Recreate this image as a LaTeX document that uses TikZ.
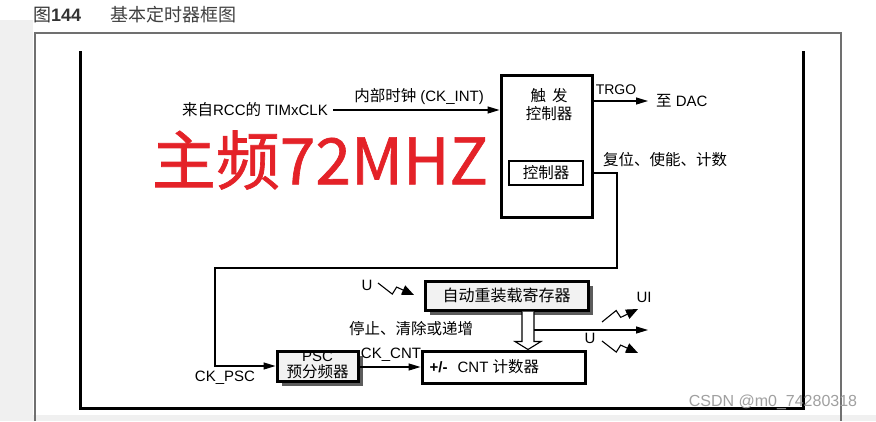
\documentclass[tikz,border=0pt]{standalone}
\usepackage{fontspec}
\setmainfont{Liberation Sans}
\newfontfamily\cjk{Noto Sans CJK SC}
\newfontfamily\handfont{Noto Sans CJK SC}[FakeBold=1]
\usetikzlibrary{arrows.meta,shadows,calc}
\definecolor{frameGray}{HTML}{707070}
\definecolor{boxFill}{HTML}{F2F2F2}
\definecolor{shadowGray}{HTML}{5C5C5C}
\definecolor{handRed}{HTML}{E42228}
\definecolor{stripGray}{HTML}{F0F0F0}
\definecolor{markGray}{HTML}{A0A0A0}
\newcommand{\zh}[1]{{\cjk\fontsize{15.5}{17}\selectfont #1}}
\newcommand{\tmrBolt}[3]{\draw[boltArr] (#1) -- ($(#1)!0.45!(#2)!6pt!#3:(#2)$) -- ($(#1)!0.5!(#2)!2pt!-#3:(#2)$) -- (#2);}
\tikzset{
  lbl/.style={inner sep=0pt, font=\fontsize{15}{17}\selectfont},
  arr/.style={line width=1.2pt, -{Triangle[length=12pt,width=7pt]}},
  boltArr/.style={line width=1.1pt, -{Triangle[length=12pt,width=10pt]}},
  thickbox/.style={draw, line width=3pt, inner sep=0pt},
  regbox/.style={thickbox, fill=boxFill, drop shadow={shadow xshift=5pt, shadow yshift=-5pt, fill=shadowGray, opacity=1}},
  hollowArr/.style={line width=1.1pt, fill=white},
}

\begin{document}
\begin{tikzpicture}[x=1pt,y=-1pt]
\useasboundingbox (0,0) rectangle (876,421);
\fill[white] (0,0) rectangle (876,421);
\fill[stripGray] (0,20) rectangle (33,421);
\fill[stripGray] (0,415) rectangle (876,421);
\node[anchor=west, inner sep=0pt, text=black!80] (fignum) at (33,15) {{\cjk\fontsize{18}{20}\selectfont 图}{\fontsize{18}{20}\selectfont\bfseries 144}};
\node[anchor=west, inner sep=0pt, text=black!75] (figtitle) at (110,15) {{\cjk\fontsize{18}{20}\selectfont 基本定时器框图}};
\draw[frameGray, line width=1.3pt] (35,421) -- (35,33) -- (841,33) -- (841,421);
\draw[line width=3pt] (80,51) -- (80,408) -- (803,408) -- (803,51);

\node[thickbox, minimum width=91pt, minimum height=142pt] (trig) at (546.5,146) {};
\node[lbl, align=center] (trigtext) at (549,105) {\zh{触\hspace{6pt}发}\\[1pt]\zh{控制器}};
\node[thickbox, line width=2.5pt, minimum width=74pt, minimum height=24pt] (ctl) at (546,173) {\zh{控制器}};

\node[lbl, anchor=east, inner sep=5pt] (src) at (333,110) {\zh{来自}RCC\zh{的} TIMxCLK};
\draw[arr] (src.east) -- (src.east -| trig.west);
\node[lbl] (ckint) at (419,97) {\zh{内部时钟} (CK\_INT)};

\node[lbl, anchor=west, inner sep=4pt] (dac) at (652,101) {\zh{至} DAC};
\draw[arr, shorten >=4pt] (trig.east |- dac.west) -- (dac.west);
\node[lbl, font=\fontsize{14}{16}\selectfont] (trgo) at (616,90) {TRGO};

\node[regbox, minimum width=81pt, minimum height=30pt, shadow xshift=4pt, shadow yshift=-4pt] (psc) at (317.5,366) {};
\node[lbl] (psctop) at (317.5,356) {PSC};
\node[lbl] (pscbot) at (317.5,372) {\zh{预分频器}};
\node[thickbox, minimum width=163pt, minimum height=32pt, fill=white] (cnt) at (503.5,367) {};
\node[lbl, anchor=west] (cnttext) at ([xshift=9pt]cnt.west) {\textbf{+/-}\hspace{10pt}CNT \zh{计数器}};
\node[regbox, minimum width=163pt, minimum height=29pt] (reload) at (506.5,295.5) {{\cjk\fontsize{16}{18}\selectfont 自动重装载寄存器}};

\node[lbl] (rst) at (665,160) {\zh{复位、使能、计数}};
\draw[line width=1.2pt, -{Triangle[length=12pt,width=7pt]}] (trig.east |- ctl) -| (617,268) -- (215,268) |- (psc.west);
\node[lbl] (ckpsc) at (225,378) {CK\_PSC};
\draw[arr] (psc.east |- cnt.west) -- (cnt.west);
\node[lbl] (ckcnt) at (391,355) {CK\_CNT};
\node[lbl] (stopclr) at (411,329) {\zh{停止、清除或递增}};

\draw[hollowArr] ([xshift=15.5pt]reload.south) |- ([xshift=11.5pt,yshift=8pt]cnt.north) -- ([xshift=24.5pt]cnt.north) -- ([xshift=37.5pt,yshift=8pt]cnt.north) -| ([xshift=27.5pt]reload.south);
\coordinate (ueStart) at (534,330);
\coordinate (ueEnd) at (648,330);
\draw[arr] (ueStart) -- (ueEnd);

\coordinate (uiA) at (602,322);
\coordinate (uiB) at (638,309);
\tmrBolt{uiA}{uiB}{90}
\node[lbl] (uilbl) at (644,297) {UI};
\coordinate (uA) at (602,341);
\coordinate (uB) at (638,353);
\tmrBolt{uA}{uB}{-90}
\node[lbl] (ulbl) at (590,338) {U};
\coordinate (usA) at (378,283);
\coordinate (usB) at (414,295);
\tmrBolt{usA}{usB}{-90}
\node[lbl] (uslbl) at (367,285) {U};

\node[inner sep=0pt, text=handRed, font=\handfont\fontsize{64}{64}\selectfont] (hand) at (320,160) {主频72MHZ};
\node[inner sep=0pt, text=markGray, font=\fontsize{16}{18}\selectfont] (mark) at (773,402) {CSDN @m0\_74280318};
\end{tikzpicture}
\end{document}
